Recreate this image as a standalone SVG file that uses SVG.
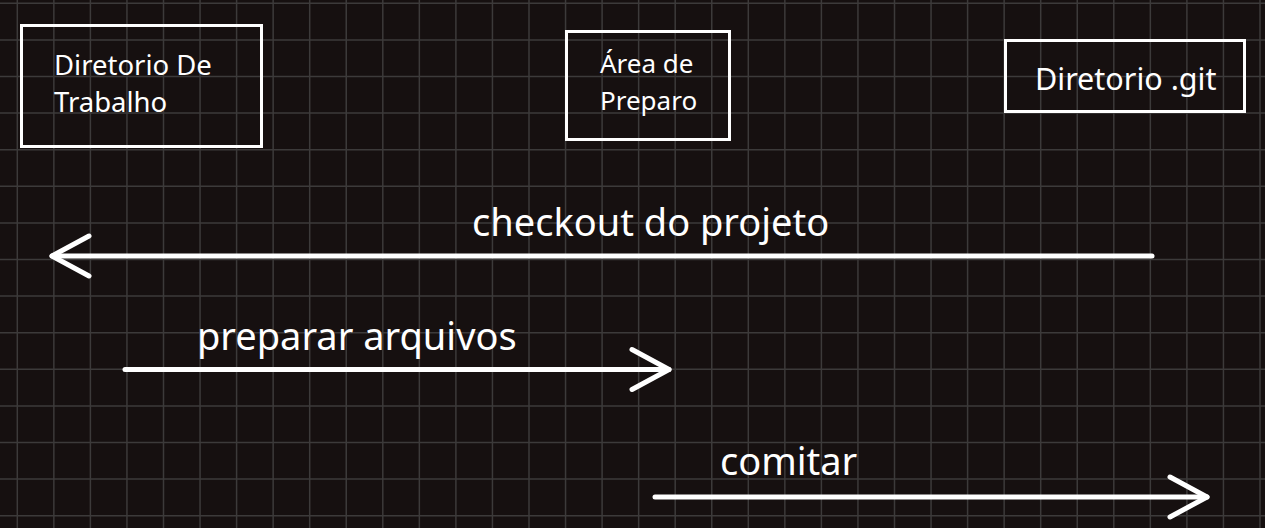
<svg xmlns="http://www.w3.org/2000/svg" width="1265" height="528" viewBox="0 0 1265 528">
  <defs>
    <style>
      .bg { fill: #161010; }
      .grid { stroke: #3c3a3a; stroke-width: 1.5; fill: none; }
      .box { fill: none; stroke: #ffffff; stroke-width: 3; }
      .txt { fill: #ffffff; font-family: "Noto Sans", "Open Sans", "DejaVu Sans", sans-serif; }
      .conn { stroke: #ffffff; stroke-width: 5; stroke-linecap: round; fill: none; }
      .lbl { font-size: 38px; }
    </style>
    <marker id="head" markerUnits="userSpaceOnUse" viewBox="-45 -25 50 50" refX="0" refY="0" markerWidth="50" markerHeight="50" orient="auto">
      <path d="M-37,-20 L0,0 L-37,20" fill="none" stroke="#ffffff" stroke-width="5" stroke-linecap="round" stroke-linejoin="round"/>
    </marker>
  </defs>
  <rect class="bg" x="0" y="0" width="1265" height="528"/>
  <path class="grid" d="M17.3 0V528M53.85 0V528M90.4 0V528M126.95 0V528M163.5 0V528M200.05 0V528M236.6 0V528M273.15 0V528M309.7 0V528M346.25 0V528M382.8 0V528M419.35 0V528M455.9 0V528M492.45 0V528M529 0V528M565.55 0V528M602.1 0V528M638.65 0V528M675.2 0V528M711.75 0V528M748.3 0V528M784.85 0V528M821.4 0V528M857.95 0V528M894.5 0V528M931.05 0V528M967.6 0V528M1004.15 0V528M1040.7 0V528M1077.25 0V528M1113.8 0V528M1150.35 0V528M1186.9 0V528M1223.45 0V528M1260 0V528M0 3.3H1265M0 39.9H1265M0 76.5H1265M0 113.1H1265M0 149.7H1265M0 186.3H1265M0 222.9H1265M0 259.5H1265M0 296.1H1265M0 332.7H1265M0 369.3H1265M0 405.9H1265M0 442.5H1265M0 479.1H1265M0 515.7H1265"/>

  <g id="node-diretorio-trabalho">
    <rect class="box" x="21.5" y="25.5" width="240" height="121"/>
    <text class="txt" font-size="27.5" x="54" y="74.5">Diretorio De</text>
    <text class="txt" font-size="27.5" x="54" y="112">Trabalho</text>
  </g>

  <g id="node-area-preparo">
    <rect class="box" x="566.5" y="31.5" width="163" height="108"/>
    <text class="txt" font-size="26" x="600" y="73">Área de</text>
    <text class="txt" font-size="26" x="600" y="109.5">Preparo</text>
  </g>

  <g id="node-diretorio-git">
    <rect class="box" x="1005.5" y="40.5" width="239" height="71"/>
    <text class="txt" font-size="30.5" x="1035" y="90">Diretorio .git</text>
  </g>

  <g id="connectors">
    <line class="conn" x1="1152" y1="256" x2="52" y2="256" marker-end="url(#head)"/>
    <text class="txt lbl" x="472" y="236">checkout do projeto</text>
    <line class="conn" x1="125" y1="369.5" x2="669" y2="369.5" marker-end="url(#head)"/>
    <text class="txt lbl" x="197" y="350">preparar arquivos</text>
    <line class="conn" x1="655" y1="497" x2="1207" y2="497" marker-end="url(#head)"/>
    <text class="txt lbl" x="720" y="475">comitar</text>
  </g>
</svg>
